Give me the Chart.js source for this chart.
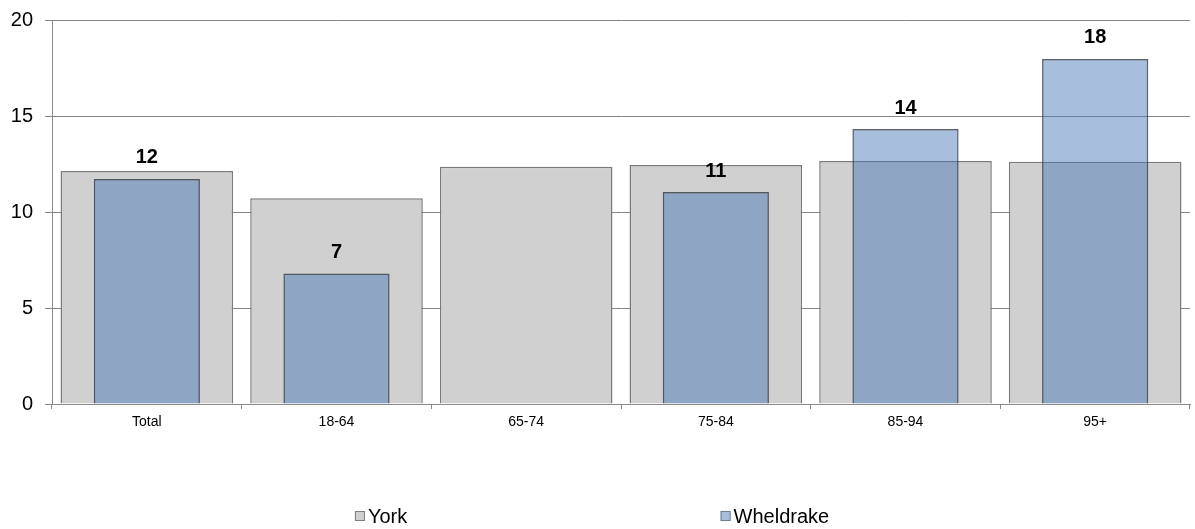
<!DOCTYPE html>
<html>
<head>
<meta charset="utf-8">
<script src="https://cdn.jsdelivr.net/npm/chart.js@4/dist/chart.umd.min.js"></script>
<style>
  html, body { margin: 0; padding: 0; background: #fff; }
  #wrap { width: 1195px; height: 529px; }
</style>
</head>
<body>
<div id="wrap"><canvas id="ageChart"></canvas></div>
<script>
var categories = ['Total', '18-64', '65-74', '75-84', '85-94', '95+'];
var york = [12.14, 10.72, 12.36, 12.45, 12.66, 12.62];
var wheldrake = [11.72, 6.8, null, 11.04, 14.32, 17.97];
var yTicks = [0, 5, 10, 15, 20];

var FONT = "Arial, 'Liberation Sans', sans-serif";

// value labels above the Wheldrake bars
var valueLabels = {
    id: 'valueLabels',
    afterDatasetsDraw: function (chart) {
        var ctx = chart.ctx;
        var meta = chart.getDatasetMeta(1);
        ctx.save();
        ctx.font = 'bold 20px ' + FONT;
        ctx.fillStyle = '#000';
        ctx.textAlign = 'center';
        ctx.textBaseline = 'middle';
        meta.data.forEach(function (bar, i) {
            var v = wheldrake[i];
            if (v === null) return;
            ctx.fillText(Math.round(v), bar.x, bar.y - 21);
        });
        ctx.restore();
    }
};

// legend spread out under the chart like the original
var spreadLegend = {
    id: 'spreadLegend',
    afterDraw: function (chart) {
        var ctx = chart.ctx;
        var y = 516;
        var items = [
            { text: 'York', x: chart.width * 0.297, fill: '#d0d0d0', stroke: '#7f7f7f' },
            { text: 'Wheldrake', x: chart.width * 0.603, fill: '#a7bfdd', stroke: '#6f7f8f' }
        ];
        ctx.save();
        ctx.font = '20px ' + FONT;
        ctx.textBaseline = 'middle';
        ctx.textAlign = 'left';
        items.forEach(function (it) {
            ctx.fillStyle = it.fill;
            ctx.fillRect(it.x, y - 5, 10, 10);
            ctx.strokeStyle = it.stroke;
            ctx.lineWidth = 1;
            ctx.strokeRect(it.x + 0.5, y - 4.5, 9, 9);
            ctx.fillStyle = '#000';
            ctx.fillText(it.text, it.x + 13, y + 1);
        });
        ctx.restore();
    }
};

var ctx = document.getElementById('ageChart').getContext('2d');
var ageChart = new Chart(ctx, {
    type: 'bar',
    data: {
        labels: categories,
        datasets: [{
            label: 'York',
            data: york,
            backgroundColor: '#d0d0d0',
            borderColor: '#7a7a7a',
            borderWidth: 1.5,
            barPercentage: 0.91,
            categoryPercentage: 1,
            grouped: false,
            order: 1
        }, {
            label: 'Wheldrake',
            data: wheldrake,
            backgroundColor: 'rgba(67,118,182,0.47)',
            borderColor: 'rgba(50,58,70,0.8)',
            borderWidth: 1.5,
            barPercentage: 0.56,
            categoryPercentage: 1,
            grouped: false,
            order: 0
        }]
    },
    options: {
        responsive: true,
        maintainAspectRatio: false,
        animation: false,
        layout: { padding: { top: 20, right: 5, left: 0, bottom: 0 } },
        plugins: {
            legend: { display: false },
            tooltip: { enabled: false }
        },
        scales: {
            x: {
                grid: {
                    drawOnChartArea: false,
                    drawTicks: true,
                    tickLength: 5,
                    color: '#8a8a8a'
                },
                border: { color: '#8a8a8a', width: 1 },
                ticks: {
                    color: '#000',
                    padding: 5,
                    maxRotation: 0,
                    font: { family: FONT, size: 14 }
                },
                afterFit: function (scale) { scale.height = 125; }
            },
            y: {
                min: 0,
                max: 20,
                afterBuildTicks: function (scale) {
                    scale.ticks = yTicks.map(function (v) { return { value: v }; });
                },
                grid: {
                    color: '#868686',
                    lineWidth: 1,
                    tickLength: 7
                },
                border: { color: '#8a8a8a', width: 1 },
                ticks: {
                    color: '#000',
                    padding: 12,
                    font: { family: FONT, size: 20 }
                },
                afterFit: function (scale) {
                    scale.width = 52;
                    scale.paddingTop = 0;
                    scale.paddingBottom = 0;
                }
            }
        }
    },
    plugins: [valueLabels, spreadLegend]
});
</script>
</body>
</html>
